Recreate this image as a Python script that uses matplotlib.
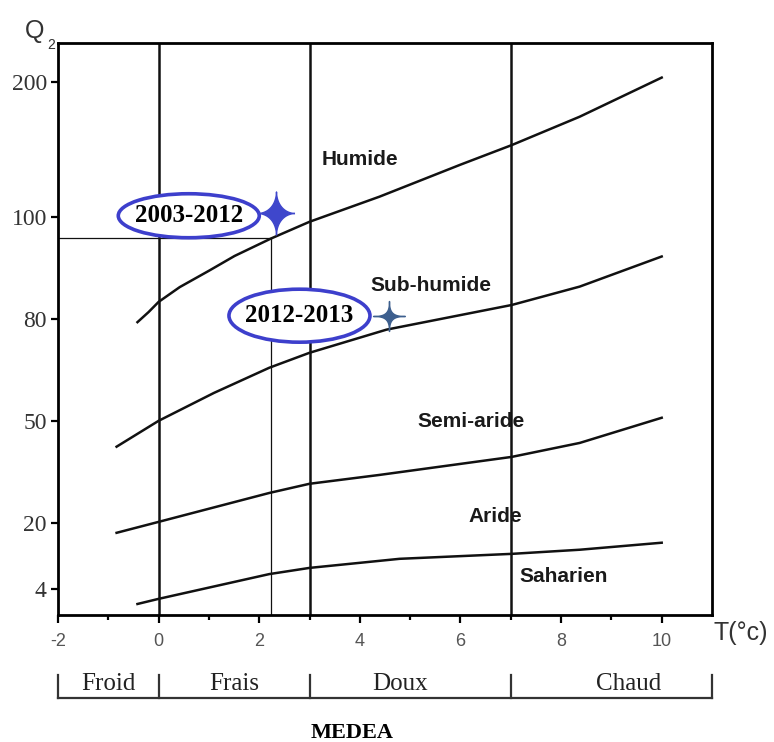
import matplotlib.pyplot as plt
import matplotlib.transforms as mtransforms
from matplotlib.patches import Ellipse
import numpy as np

# axe Q2 non lineaire (graduations du climagramme)
q2_ticks = [4, 20, 50, 80, 100, 200]
q2_pos = [26, 92, 194, 296, 398, 533]
scale_vals = [-2.3] + q2_ticks + [230]
scale_pos = [0] + q2_pos + [573]

x_ticks = [-2, 0, 2, 4, 6, 8, 10]

# limites des etages bioclimatiques
t_humide = [-0.42, -0.2, 0, 0.42, 1.0, 1.51, 2.23, 3, 4.39, 6, 7.02, 8.37, 10]
q_humide = [79.0, 81.3, 83.3, 86.2, 89.4, 92.3, 95.7, 99.0, 114.8, 138.5, 153, 174, 203]
t_subhum = [-0.835, 0, 1.1, 2.2, 3, 4.53, 7.02, 8.37, 10]
q_subhum = [42.4, 50, 58.2, 65.6, 70, 76.8, 82.7, 86.3, 92.2]
t_semi = [-0.835, 0, 2.2, 3, 4.39, 7.02, 8.37, 10]
q_semi = [17.6, 20.3, 28.8, 31.5, 34.1, 39.4, 43.5, 50.9]
t_aride = [-0.42, 0, 2.2, 3, 4.79, 7.02, 8.37, 10]
q_aride = [0.36, 1.6, 7.6, 9.1, 11.3, 12.5, 13.5, 15.2]

etages = ['Humide', 'Sub-humide', 'Semi-aride', 'Aride', 'Saharien']
etages_t = [4.0, 5.41, 6.22, 6.70, 8.05]
etages_q = [142, 86.5, 49.7, 21.8, 6.9]

# variantes thermiques
variantes = ['Froid', 'Frais', 'Doux', 'Chaud']
variantes_t = [-1.0, 1.5, 4.8, 9.35]
limites_var = [-2, 0, 3, 7, 11]

# station MEDEA
periodes = ['2003-2012', '2012-2013']
periodes_t = [2.33, 4.57]
periodes_q = [103, 80.5]
etiq_t = [0.6, 2.8]
etiq_q = [100.7, 80.6]
m_t = 2.23
m_q = 95.9


def fwd(v):
    return np.interp(v, scale_vals, scale_pos)


def inv(p):
    return np.interp(p, scale_pos, scale_vals)


def etoile(h, v, p):
    # etoile a 4 branches concaves (super-ellipse d'exposant p)
    a = np.linspace(0, 2 * np.pi, 97)
    c, s = np.cos(a), np.sin(a)
    x = h * np.sign(c) * np.abs(c) ** p
    y = v * np.sign(s) * np.abs(s) ** p
    return list(zip(x, y))


fig = plt.figure(figsize=(7.74, 7.42), dpi=100)
ax = fig.add_axes([0.0749, 0.1712, 0.845, 0.771])
ax.set_yscale('function', functions=(fwd, inv))
ax.set_xlim(-2, 11)
ax.set_ylim(-2.3, 229)

for s in ax.spines.values():
    s.set_linewidth(2)

# lignes de separation
for xv in limites_var[1:-1]:
    ax.axvline(xv, color='#111', lw=1.8, zorder=1)

for t, q in [(t_humide, q_humide), (t_subhum, q_subhum), (t_semi, q_semi), (t_aride, q_aride)]:
    ax.plot(t, q, color='#111', lw=1.8, zorder=2)

ax.plot([-2, m_t], [m_q, m_q], color='#111', lw=0.9, zorder=2)
ax.plot([m_t, m_t], [-2.3, m_q], color='#111', lw=0.9, zorder=2)

for nom, t, q in zip(etages, etages_t, etages_q):
    ax.text(t, q, nom, ha='center', va='center', fontsize=15,
            fontweight='bold', family='Liberation Sans', color='#1a1a1a')

# etoiles
ax.plot(periodes_t[0], periodes_q[0], marker=etoile(0.86, 1, 3.6),
        ms=31, color='#3f47cc', ls='none', zorder=6, clip_on=False)
ax.plot(periodes_t[1], periodes_q[1], marker=etoile(1, 0.94, 4.5),
        ms=23, color='#3d5f8e', ls='none', zorder=6, clip_on=False)

tailles = [(1.41, 0.44), (1.41, 0.53)]
for nom, t, q, (w, h) in zip(periodes, etiq_t, etiq_q, tailles):
    tr = fig.dpi_scale_trans + mtransforms.ScaledTranslation(t, q, ax.transData)
    ax.add_patch(Ellipse((0, 0), w, h, transform=tr, fc='white',
                         ec='#3d3fcc', lw=2.6, zorder=4))
    ax.text(t, q, nom, ha='center', va='center', fontsize=18,
            fontweight='bold', family='Liberation Serif', zorder=5)

# graduations
ax.set_yticks(q2_ticks)
ax.set_yticklabels([str(v) for v in q2_ticks], family='Liberation Serif',
                   fontsize=17, color='#333')
ax.set_xticks(x_ticks)
ax.set_xticklabels([str(v) for v in x_ticks], family='Liberation Sans',
                   fontsize=13, color='#555')
ax.set_xticks(range(-1, 11, 2), minor=True)
ax.tick_params(axis='y', length=5, width=1.6, pad=3)
ax.tick_params(axis='x', which='major', length=6, width=1.6, pad=7)
ax.tick_params(axis='x', which='minor', length=3.5, width=1.6)

ax.text(-0.0505, 1.009, 'Q', transform=ax.transAxes, fontsize=18,
        family='Liberation Sans', color='#333', va='baseline', ha='left')
ax.text(-0.017, 0.989, '2', transform=ax.transAxes, fontsize=10,
        family='Liberation Sans', color='#333', va='baseline', ha='left')
ax.text(1.002, -0.010, 'T(°c)', transform=ax.transAxes, fontsize=18,
        family='Liberation Sans', color='#333', va='top', ha='left')

# accolade des variantes thermiques
bt = ax.get_xaxis_transform()
ax.plot([limites_var[0], limites_var[-1]], [-0.145, -0.145], color='#333',
        lw=1.6, transform=bt, clip_on=False)
for xv in limites_var:
    ax.plot([xv, xv], [-0.145, -0.105], color='#333', lw=1.6,
            transform=bt, clip_on=False)
for nom, t in zip(variantes, variantes_t):
    ax.text(t, -0.121, nom, transform=bt, ha='center', va='center',
            fontsize=18, family='Liberation Serif', color='#222')

fig.text(352 / 774, 1 - 733 / 742, 'MEDEA', ha='center', va='center',
         fontsize=16, fontweight='bold', family='Liberation Serif')

fig.savefig('out.png', dpi=100)
